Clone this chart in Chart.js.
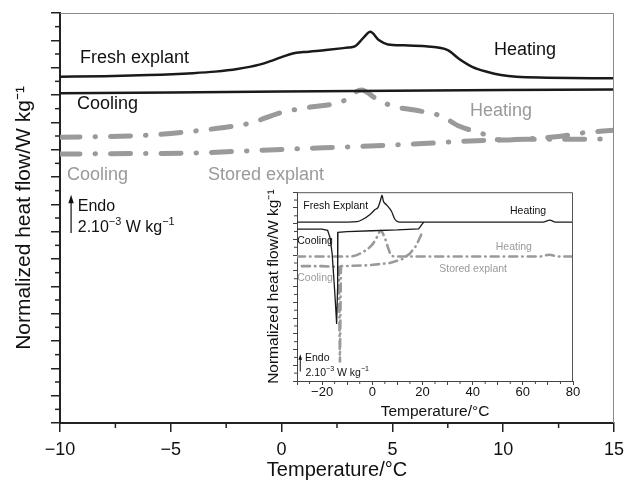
<!DOCTYPE html>
<html><head><meta charset="utf-8">
<script src="https://cdn.jsdelivr.net/npm/chart.js@4"></script>
<style>
html,body{margin:0;padding:0;background:#fff;}
#wrap{position:relative;width:637px;height:491px;overflow:hidden;}
#main{position:absolute;left:0;top:0;width:637px;height:491px;}
#inset{position:absolute;left:262px;top:182px;width:320px;height:240px;}
</style></head><body>
<div id="wrap"><canvas id="main" width="637" height="491"></canvas><canvas id="inset" width="320" height="240"></canvas></div>
<script>
// ---------- main chart data (temperature °C, normalized heat flow, arbitrary units) ----------
const freshHeatT = [-10,-8,-6,-4,-3,-2,-1,-0.5,0,0.5,1,2,3,3.3,3.7,4.0,4.4,4.8,5.5,6.5,7.5,8.0,8.6,9.3,9.9,10.6,12,15];
const freshHeatQ = [25.33,25.38,25.46,25.6,25.71,25.9,26.22,26.48,26.77,27.03,27.14,27.29,27.47,27.55,28.2,28.62,28.0,27.7,27.64,27.57,27.29,26.65,26.06,25.68,25.46,25.33,25.27,25.22];
const freshCoolT = [-10,-5,0,5,10,15];
const freshCoolQ = [24.12,24.18,24.25,24.31,24.36,24.41];
const storedHeatT = [-10,-6,-2.8,-1.4,-0.1,1.3,2.7,3.6,4.3,5,6,7.2,8,9,9.9,11,12.5,13.5,15];
const storedHeatQ = [20.9,21.07,21.58,21.95,22.68,23.12,23.5,24.36,23.7,23.19,22.9,22.46,21.73,21.21,20.7,20.78,20.96,21.21,21.43];
const storedCoolT = [-10,-6,-4,-1,1,3,5,7,8,9.5,11,13,15];
const storedCoolQ = [19.68,19.72,19.75,19.95,20.08,20.2,20.34,20.5,20.6,20.7,20.76,20.76,20.78];
const mainXTicks = [-10,-5,0,5,10,15];

// ---------- inset data ----------
const inFreshHeatT = [-30,-10,-6,-3.7,-0.9,1.1,2.3,3.3,3.9,4.4,5.7,7.7,9.0,10.3,12,30,60,68,70.8,73,80];
const inFreshHeatQ = [20.2,20.2,20.25,20.56,21.17,21.79,22.07,23.0,23.62,22.89,22.4,21.54,20.56,20.23,20.2,20.2,20.2,20.2,20.45,20.2,20.2];
const inFreshCoolT = [20.5,19.8,18.5,10,0,-10,-13.7,-13.8,-14.2,-14.7,-15.2,-16.0,-16.8,-17.8,-20,-30];
const inFreshCoolQ = [20.2,19.9,19.35,19.2,19.1,19.0,18.9,12,7.26,10,12.5,16.2,18.2,19.15,19.3,19.3];
const inStoredHeatT = [-30,-9,-3.7,-0.2,1.9,3.3,5.1,6.4,7.7,10,40,67,70.5,74,80];
const inStoredHeatQ = [15.83,15.83,16.4,17.26,18.3,19.1,18.1,16.85,15.9,15.83,15.83,15.83,16.05,15.83,15.83];
const inStoredCoolT = [19.5,17.5,15,12,7,-2,-12.5,-12.7,-12.9,-13.1,-13.3,-20,-30];
const inStoredCoolQ = [18.6,17.2,16.2,15.5,15.0,14.7,14.6,8,2.36,8,14.5,14.6,14.6];
const insetXTicks = [-20,0,20,40,60,80];

const pts = (xs, ys) => xs.map((v, i) => ({x: v, y: ys[i]}));
const minus = v => String(v).replace('-', '\u2212');
const FONT = '"Liberation Sans", Arial, Helvetica, sans-serif';
Chart.defaults.font.family = FONT;
Chart.defaults.color = '#111';

const BLACK = '#1a1a1a', GRAY = '#9a9a9a';

function drawRich(ctx, parts, x, y, size, color) {
  ctx.fillStyle = color; ctx.textAlign = 'left'; ctx.textBaseline = 'middle';
  let cx = x;
  for (const p of parts) {
    const s = p.sup ? size * 0.68 : size;
    ctx.font = s + 'px ' + FONT;
    ctx.fillText(p.t, cx, p.sup ? y - size * 0.36 : y);
    cx += ctx.measureText(p.t).width;
  }
}

const decor = {
  id: 'decor',
  afterDraw(chart, args, o) {
    const {ctx, chartArea: a, scales: {x, y}} = chart;
    ctx.save();
    ctx.strokeStyle = o.frameColor; ctx.lineWidth = o.frameWidth;
    ctx.beginPath();
    ctx.moveTo(a.left, a.top + 0.5); ctx.lineTo(a.right - 0.5, a.top + 0.5); ctx.lineTo(a.right - 0.5, a.bottom);
    ctx.stroke();
    ctx.strokeStyle = o.tickColor; ctx.lineWidth = o.tickWidth;
    for (const v of o.xMinor) {
      const px = x.getPixelForValue(v);
      ctx.beginPath(); ctx.moveTo(px, a.bottom); ctx.lineTo(px, a.bottom + o.minorLen); ctx.stroke();
    }
    for (const v of o.yMinor) {
      const py = y.getPixelForValue(v);
      ctx.beginPath(); ctx.moveTo(a.left, py); ctx.lineTo(a.left - o.minorLen, py); ctx.stroke();
    }
    for (const l of o.labels) {
      drawRich(ctx, l.parts, x.getPixelForValue(l.x), y.getPixelForValue(l.y), l.size, l.color);
    }
    // Endo arrow
    const ar = o.arrow;
    const ax = x.getPixelForValue(ar.x), ay1 = y.getPixelForValue(ar.y1), ay2 = y.getPixelForValue(ar.y2);
    ctx.strokeStyle = '#111'; ctx.fillStyle = '#111'; ctx.lineWidth = ar.w;
    ctx.beginPath(); ctx.moveTo(ax, ay2); ctx.lineTo(ax, ay1 + ar.head); ctx.stroke();
    ctx.beginPath(); ctx.moveTo(ax, ay1); ctx.lineTo(ax - ar.head * 0.45, ay1 + ar.head * 1.4); ctx.lineTo(ax + ar.head * 0.45, ay1 + ar.head * 1.4); ctx.closePath(); ctx.fill();
    ctx.restore();
  }
};

const odd = (lo, hi) => { const r = []; for (let v = lo; v <= hi; v += 2) r.push(v); return r; };

// ---------- main chart ----------
new Chart(document.getElementById('main'), {
  type: 'line',
  data: { datasets: [
    { data: pts(freshHeatT, freshHeatQ), borderColor: BLACK, borderWidth: 2.5, cubicInterpolationMode: 'monotone' },
    { data: pts(freshCoolT, freshCoolQ), borderColor: BLACK, borderWidth: 2.5 },
    { data: pts(storedHeatT, storedHeatQ), borderColor: GRAY, borderWidth: 5, borderDash: [20, 15, 0.5, 15], borderCapStyle: 'round', cubicInterpolationMode: 'monotone' },
    { data: pts(storedCoolT, storedCoolQ), borderColor: GRAY, borderWidth: 5, borderDash: [20, 15, 0.5, 15], borderCapStyle: 'round', cubicInterpolationMode: 'monotone' }
  ]},
  options: {
    responsive: false, animation: false, devicePixelRatio: 1,
    elements: { point: { radius: 0 } },
    layout: { padding: { top: 13, right: 23, left: 0, bottom: 0 } },
    plugins: {
      legend: { display: false }, tooltip: { enabled: false },
      decor: {
        frameColor: '#8a8a8a', frameWidth: 1, tickColor: '#222', tickWidth: 1.5, minorLen: 5,
        xMinor: [-7.5, -2.5, 2.5, 7.5, 12.5], yMinor: odd(1, 29),
        labels: [
          { parts: [{t: 'Fresh explant'}], x: -9.1, y: 26.7, size: 18, color: '#111' },
          { parts: [{t: 'Heating'}], x: 9.58, y: 27.29, size: 18, color: '#111' },
          { parts: [{t: 'Cooling'}], x: -9.23, y: 23.34, size: 18, color: '#111' },
          { parts: [{t: 'Heating'}], x: 8.5, y: 22.82, size: 18, color: GRAY },
          { parts: [{t: 'Cooling'}], x: -9.68, y: 18.14, size: 18, color: GRAY },
          { parts: [{t: 'Stored explant'}], x: -3.32, y: 18.14, size: 18, color: GRAY },
          { parts: [{t: 'Endo'}], x: -9.2, y: 15.8, size: 16, color: '#111' },
          { parts: [{t: '2.10'}, {t: '\u22123', sup: true}, {t: ' W kg'}, {t: '\u22121', sup: true}], x: -9.2, y: 14.3, size: 16, color: '#111' }
        ],
        arrow: { x: -9.5, y1: 16.7, y2: 13.9, w: 1.2, head: 6 }
      }
    },
    scales: {
      x: {
        type: 'linear', min: -10, max: 15,
        afterFit: s => { s.height = 68; },
        afterBuildTicks: s => { s.ticks = mainXTicks.map(v => ({value: v})); },
        ticks: { callback: v => minus(v), font: { size: 18 }, color: '#111', padding: 7, maxRotation: 0, autoSkip: false },
        grid: { drawOnChartArea: false, tickLength: 9, color: '#222', lineWidth: 1.5 },
        border: { display: true, color: '#222', width: 2 },
        title: { display: true, text: 'Temperature/\u00B0C', font: { size: 20 }, color: '#111', padding: { top: 0, bottom: 9 } }
      },
      y: {
        type: 'linear', min: 0, max: 30,
        afterFit: s => { s.width = 60; },
        ticks: { stepSize: 2, callback: () => '', autoSkip: false },
        grid: { drawOnChartArea: false, tickLength: 9, color: '#222', lineWidth: 1.5 },
        border: { display: true, color: '#222', width: 2 },
        title: { display: true, text: 'Normalized heat flow/W kg\u207B\u00B9', font: { size: 21 }, color: '#111', padding: { top: 12, bottom: 0 } }
      }
    }
  },
  plugins: [decor]
});

// ---------- inset chart ----------
new Chart(document.getElementById('inset'), {
  type: 'line',
  data: { datasets: [
    { data: pts(inFreshHeatT, inFreshHeatQ), borderColor: BLACK, borderWidth: 1.3, cubicInterpolationMode: 'monotone' },
    { data: pts(inFreshCoolT, inFreshCoolQ), borderColor: BLACK, borderWidth: 1.3, tension: 0 },
    { data: pts(inStoredHeatT, inStoredHeatQ), borderColor: GRAY, borderWidth: 2.6, borderDash: [8, 5, 0.5, 5], borderCapStyle: 'round', cubicInterpolationMode: 'monotone' },
    { data: pts(inStoredCoolT, inStoredCoolQ), borderColor: GRAY, borderWidth: 2.6, borderDash: [8, 5, 0.5, 5], borderCapStyle: 'round', tension: 0 }
  ]},
  options: {
    responsive: false, animation: false, devicePixelRatio: 1,
    elements: { point: { radius: 0 } },
    layout: { padding: { top: 3, right: 9, left: 0, bottom: 0 } },
    plugins: {
      legend: { display: false }, tooltip: { enabled: false },
      decor: {
        frameColor: '#555', frameWidth: 1, tickColor: '#444', tickWidth: 1, minorLen: 3,
        xMinor: [-25,-15,-5,5,15,25,35,45,55,65,75], yMinor: odd(1, 23),
        labels: [
          { parts: [{t: 'Fresh Explant'}], x: -27.5, y: 22.24, size: 10.5, color: '#111' },
          { parts: [{t: 'Heating'}], x: 54.9, y: 21.63, size: 10.5, color: '#111' },
          { parts: [{t: 'Cooling'}], x: -29.9, y: 17.8, size: 10.5, color: '#111' },
          { parts: [{t: 'Heating'}], x: 49.2, y: 16.97, size: 10.5, color: GRAY },
          { parts: [{t: 'Stored explant'}], x: 26.7, y: 14.28, size: 10.5, color: GRAY },
          { parts: [{t: 'Cooling'}], x: -29.9, y: 13.1, size: 10.5, color: GRAY },
          { parts: [{t: 'Endo'}], x: -26.8, y: 2.85, size: 10.5, color: '#111' },
          { parts: [{t: '2.10'}, {t: '\u22123', sup: true}, {t: ' W kg'}, {t: '\u22121', sup: true}], x: -26.6, y: 1.03, size: 10.5, color: '#111' }
        ],
        arrow: { x: -28.7, y1: 3.4, y2: 1.2, w: 1, head: 4 }
      }
    },
    scales: {
      x: {
        type: 'linear', min: -30, max: 80,
        afterFit: s => { s.height = 41; },
        ticks: { stepSize: 10, callback: v => insetXTicks.includes(v) ? minus(v) : '', font: { size: 13 }, color: '#111', padding: 0, maxRotation: 0, autoSkip: false },
        grid: { drawOnChartArea: false, tickLength: 4, color: '#444', lineWidth: 1 },
        border: { display: true, color: '#444', width: 1 },
        title: { display: true, text: 'Temperature/\u00B0C', font: { size: 15.5 }, color: '#111', padding: { top: 0, bottom: 1 } }
      },
      y: {
        type: 'linear', min: 0, max: 24,
        afterFit: s => { s.width = 35; },
        ticks: { stepSize: 2, callback: () => '', autoSkip: false },
        grid: { drawOnChartArea: false, tickLength: 4, color: '#444', lineWidth: 1 },
        border: { display: true, color: '#444', width: 1 },
        title: { display: true, text: 'Normalized heat flow/W kg\u207B\u00B9', font: { size: 15.5 }, color: '#111', padding: { top: 2, bottom: 0 } }
      }
    }
  },
  plugins: [decor]
});
</script>
</body></html>
